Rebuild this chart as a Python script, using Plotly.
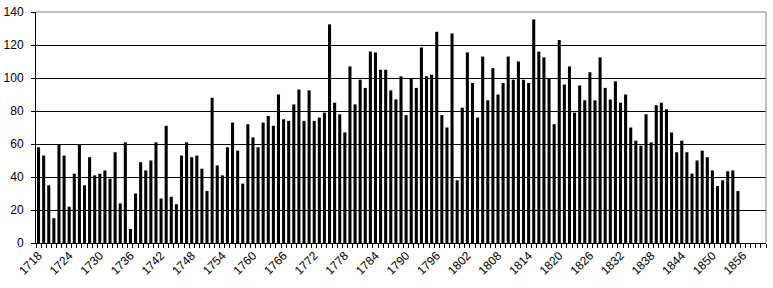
import plotly.graph_objects as go

first_year = 1718
last_category = 1860
values = [
    58, 53, 35, 15, 60, 53, 22, 42, 60, 35,      # 1718-1727
    52, 41, 42, 44, 39, 55, 24, 61, 8.5, 30,     # 1728-1737
    49, 44, 50, 61, 27, 71, 28, 23.5, 53, 61,    # 1738-1747
    52, 53, 45, 31.5, 88, 47, 41, 58, 73, 56,    # 1748-1757
    36, 72, 64, 58, 73, 77, 71, 90, 75, 74,      # 1758-1767
    84, 93, 74, 92.5, 74, 76, 79, 132.5, 85, 78, # 1768-1777
    67, 107, 84, 99, 94, 116, 115.5, 105, 105, 92.5,  # 1778-1787
    87, 101, 77.5, 100, 94, 118.5, 101, 102, 128, 77.5,  # 1788-1797
    70, 127, 38, 82, 115.5, 97, 76, 113, 86.5, 106,  # 1798-1807
    90, 97, 113, 99, 110, 99, 97, 135.5, 116, 112.5,  # 1808-1817
    100, 72, 123, 96, 107, 79, 95.5, 86.5, 103.5, 86.5,  # 1818-1827
    112.5, 94, 87, 98, 85, 90, 70, 62, 59, 78,   # 1828-1837
    61, 83.5, 85, 81, 67, 55, 62, 55, 42, 50,    # 1838-1847
    56, 52, 44, 34.5, 38, 43.5, 44, 31.5,        # 1848-1855
]
years = [first_year + i for i in range(len(values))]
tick_years = list(range(first_year, 1857, 6))
y_ticks = list(range(0, 141, 20))

fig = go.Figure(go.Bar(x=years, y=values, marker=dict(color="black", line=dict(width=0)),
                       width=0.6))

font = dict(family="Liberation Sans, Arial, sans-serif", size=12, color="black")
fig.update_layout(
    width=773, height=288,
    margin=dict(l=36, r=7, t=12, b=45),
    paper_bgcolor="white", plot_bgcolor="white",
    showlegend=False,
    font=font,
    bargap=0.4,
)
fig.update_xaxes(
    range=[first_year - 0.5, last_category + 0.5],
    tickmode="array", tickvals=tick_years, ticktext=[str(y) for y in tick_years],
    tickangle=-45, ticks="", showgrid=False, zeroline=False,
    showline=True, linecolor="black", linewidth=1,
    minor=dict(ticks="outside", tick0=first_year - 0.5, dtick=1, ticklen=4,
               tickcolor="black", tickwidth=1, showgrid=False),
    mirror=False, tickfont=font, automargin=False,
)
fig.update_yaxes(
    range=[0, 140], tickmode="array", tickvals=y_ticks,
    ticks="outside", ticklen=4, tickcolor="black",
    showgrid=True, gridcolor="black", gridwidth=1,
    showline=True, linecolor="black", linewidth=1, zeroline=False,
    tickfont=font, ticklabelstandoff=5, automargin=False,
)
# gray plot-area border on top and right
fig.add_shape(type="line", xref="paper", yref="paper", x0=0, x1=1, y0=1, y1=1,
              line=dict(color="#808080", width=1))
fig.add_shape(type="line", xref="paper", yref="paper", x0=1, x1=1, y0=0, y1=1,
              line=dict(color="#808080", width=1))

fig.write_html("out.html")
